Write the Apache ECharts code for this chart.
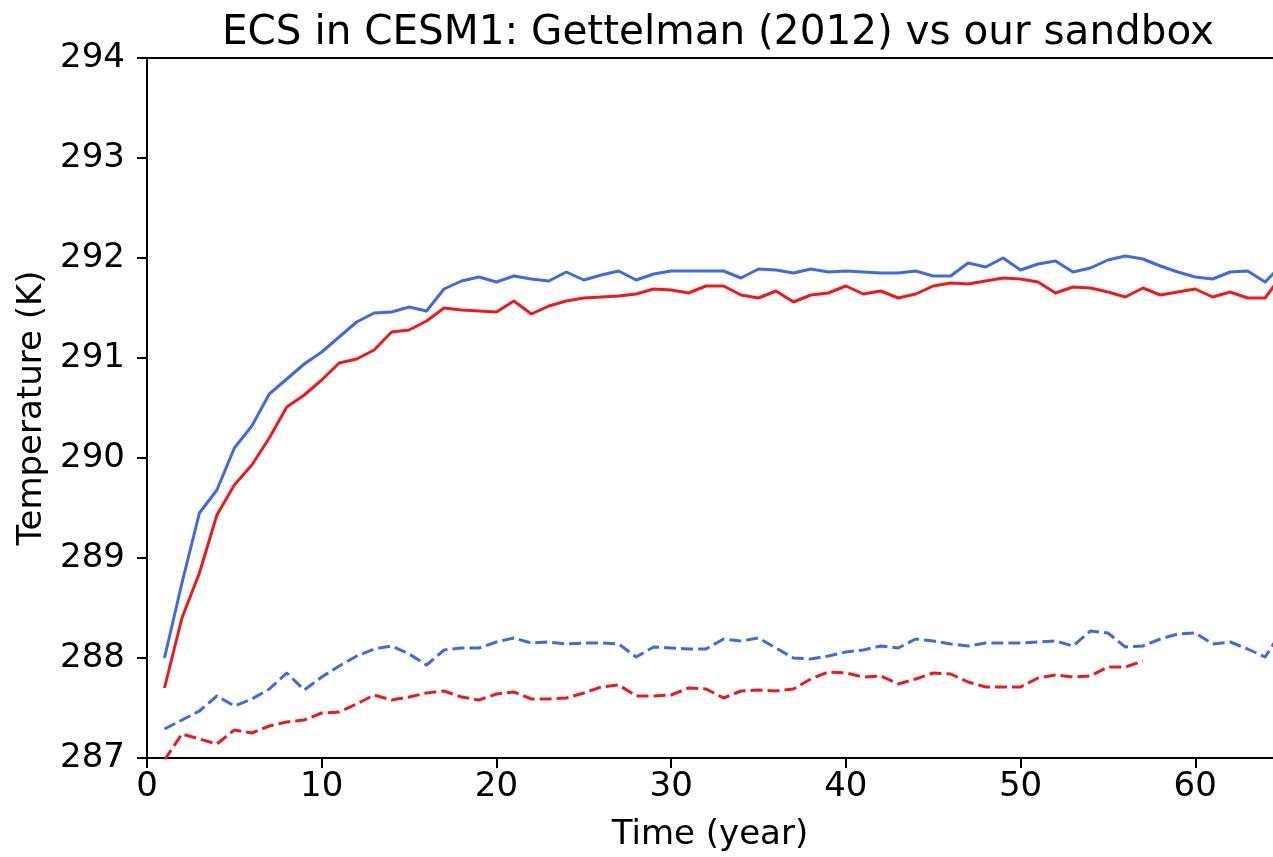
<!DOCTYPE html>
<html>
<head>
<meta charset="utf-8">
<title>ECS in CESM1</title>
<script src="https://cdn.jsdelivr.net/npm/echarts@6/dist/echarts.min.js"></script>
<style>
  html, body { margin: 0; padding: 0; background: #fff; }
  #chart { width: 1273px; height: 857px; }
</style>
</head>
<body>
<div id="chart"></div>
<script>
// Model years of the runs
const years = [
  1, 2, 3, 4, 5, 6, 7, 8, 9, 10, 11, 12, 13, 14, 15, 16, 17, 18, 19, 20,
  21, 22, 23, 24, 25, 26, 27, 28, 29, 30, 31, 32, 33, 34, 35, 36, 37, 38, 39, 40,
  41, 42, 43, 44, 45, 46, 47, 48, 49, 50, 51, 52, 53, 54, 55, 56, 57, 58, 59, 60,
  61, 62, 63, 64, 65
];

// Global-mean surface temperature (K), warmed runs (solid lines)
const blueSolid = [
  288.00, 288.75, 289.45, 289.68, 290.10, 290.32, 290.64, 290.79, 290.94, 291.06,
  291.21, 291.36, 291.45, 291.46, 291.51, 291.47, 291.69, 291.77, 291.81, 291.76,
  291.82, 291.79, 291.77, 291.86, 291.78, 291.83, 291.87, 291.78, 291.84, 291.87,
  291.87, 291.87, 291.87, 291.80, 291.89, 291.88, 291.85, 291.89, 291.86, 291.87,
  291.86, 291.85, 291.85, 291.87, 291.82, 291.82, 291.95, 291.91, 292.00, 291.88,
  291.94, 291.97, 291.86, 291.90, 291.98, 292.02, 291.99, 291.92, 291.86, 291.81,
  291.79, 291.86, 291.87, 291.76, 291.94
];
const redSolid = [
  287.70, 288.40, 288.85, 289.43, 289.73, 289.93, 290.20, 290.51, 290.63, 290.78,
  290.95, 290.99, 291.08, 291.26, 291.28, 291.37, 291.50, 291.48, 291.47, 291.46,
  291.57, 291.44, 291.52, 291.57, 291.60, 291.61, 291.62, 291.64, 291.69, 291.68,
  291.65, 291.72, 291.72, 291.63, 291.60, 291.67, 291.56, 291.63, 291.65, 291.72,
  291.64, 291.67, 291.60, 291.64, 291.72, 291.75, 291.74, 291.77, 291.80, 291.79,
  291.76, 291.65, 291.71, 291.70, 291.66, 291.61, 291.70, 291.63, 291.66, 291.69,
  291.61, 291.66, 291.60, 291.60, 291.84
];

// Control runs (dashed lines)
const blueDashed = [
  287.29, 287.38, 287.47, 287.62, 287.52, 287.59, 287.69, 287.85, 287.68, 287.81,
  287.92, 288.02, 288.09, 288.12, 288.04, 287.93, 288.08, 288.10, 288.10, 288.16,
  288.20, 288.15, 288.16, 288.14, 288.15, 288.15, 288.14, 288.01, 288.11, 288.10,
  288.09, 288.09, 288.19, 288.17, 288.20, 288.10, 288.00, 287.99, 288.02, 288.06,
  288.08, 288.12, 288.10, 288.19, 288.17, 288.14, 288.12, 288.15, 288.15, 288.15,
  288.16, 288.17, 288.12, 288.27, 288.25, 288.11, 288.12, 288.19, 288.24, 288.25,
  288.14, 288.16, 288.09, 288.01, 288.28
];
const redDashed = [
  286.98, 287.24, 287.19, 287.14, 287.28, 287.25, 287.32, 287.36, 287.38, 287.45,
  287.46, 287.54, 287.63, 287.58, 287.61, 287.65, 287.67, 287.61, 287.58, 287.64,
  287.66, 287.59, 287.59, 287.60, 287.65, 287.71, 287.73, 287.62, 287.62, 287.63,
  287.70, 287.69, 287.60, 287.67, 287.68, 287.67, 287.69, 287.79, 287.86, 287.85,
  287.81, 287.82, 287.74, 287.79, 287.85, 287.84, 287.76, 287.71, 287.71, 287.71,
  287.80, 287.83, 287.81, 287.82, 287.91, 287.91, 287.97
];

const xTicks = [0, 10, 20, 30, 40, 50, 60];
const yTicks = [287, 288, 289, 290, 291, 292, 293, 294];

const titleText = 'ECS in CESM1: Gettelman (2012) vs our sandbox';
const xName = 'Time (year)';
const yName = 'Temperature (K)';

const BLUE = '#4169e1';
const RED = '#ee1a1a';
const FONT = 'DejaVu Sans';

function pairs(values) {
  return values.map((v, i) => [years[i], v]);
}

function lineSeries(values, color, dashed) {
  return {
    type: 'line',
    data: pairs(values),
    showSymbol: false,
    symbol: 'none',
    clip: true,
    lineStyle: {
      color: color,
      width: 3,
      type: dashed ? [12, 5] : 'solid',
      cap: 'butt',
      join: 'round'
    },
    z: 3
  };
}

const axisStroke = { color: '#000', width: 2 };

const chart = echarts.init(document.getElementById('chart'), null, { renderer: 'canvas' });

chart.setOption({
  animation: false,
  backgroundColor: '#ffffff',
  title: {
    text: titleText,
    left: 713,
    top: 8,
    textAlign: 'center',
    textStyle: { fontFamily: FONT, fontSize: 40.5, fontWeight: 'normal', color: '#000' }
  },
  grid: {
    left: 147,
    top: 58,
    right: 0,
    bottom: 96
  },
  xAxis: [
    {
      type: 'value',
      min: 0,
      max: 64.45,
      name: xName,
      nameLocation: 'middle',
      nameGap: 60,
      nameTextStyle: { fontFamily: FONT, fontSize: 34, color: '#000' },
      axisLine: { show: true, onZero: false, lineStyle: axisStroke },
      axisTick: { show: true, inside: false, length: 10, lineStyle: axisStroke, customValues: xTicks },
      axisLabel: { fontFamily: FONT, fontSize: 34, color: '#000', margin: 12, customValues: xTicks },
      splitLine: { show: false }
    },
    {
      // top frame line
      type: 'value',
      position: 'top',
      min: 0,
      max: 64.45,
      axisLine: { show: true, onZero: false, lineStyle: axisStroke },
      axisTick: { show: false },
      axisLabel: { show: false },
      splitLine: { show: false }
    }
  ],
  yAxis: {
    type: 'value',
    min: 287,
    max: 294,
    interval: 1,
    name: yName,
    nameLocation: 'middle',
    nameGap: 96,
    nameTextStyle: { fontFamily: FONT, fontSize: 34, color: '#000' },
    axisLine: { show: true, onZero: false, lineStyle: axisStroke },
    axisTick: { show: true, inside: false, length: 10, lineStyle: axisStroke, customValues: yTicks },
    axisLabel: { fontFamily: FONT, fontSize: 34, color: '#000', margin: 22, customValues: yTicks },
    splitLine: { show: false }
  },
  series: [
    lineSeries(blueSolid, BLUE, false),
    lineSeries(redSolid, RED, false),
    lineSeries(blueDashed, BLUE, true),
    lineSeries(redDashed, RED, true)
  ]
});
</script>
</body>
</html>
